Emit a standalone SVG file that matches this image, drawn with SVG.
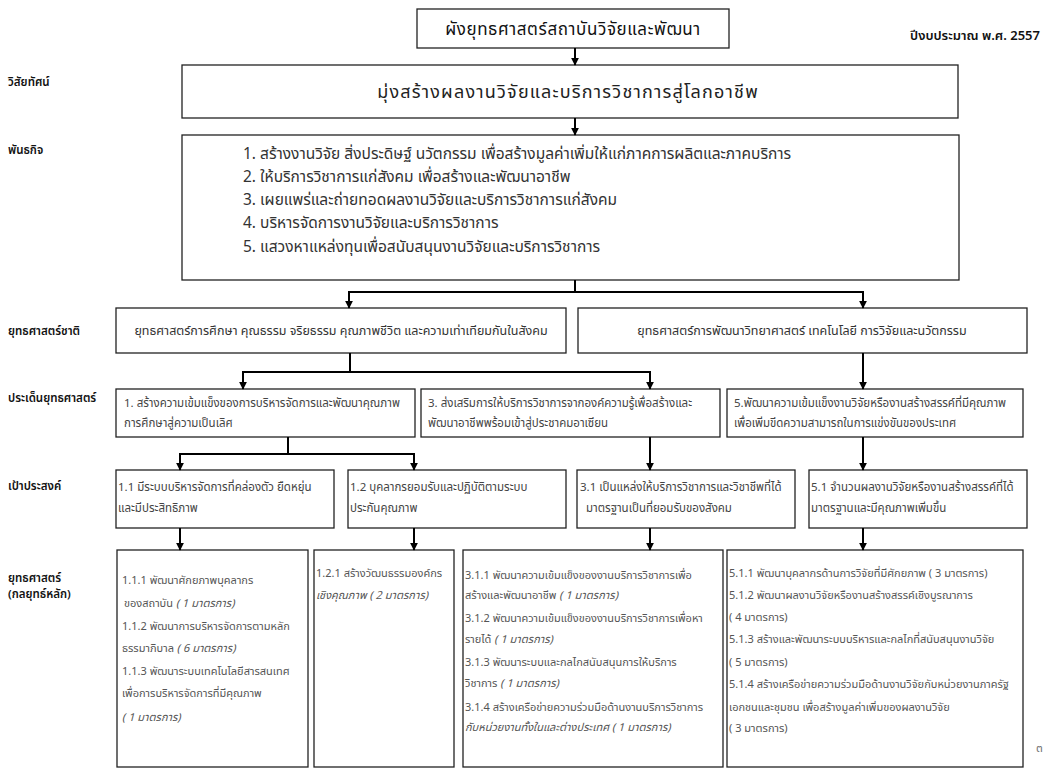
<svg xmlns="http://www.w3.org/2000/svg" width="1048" height="769" viewBox="0 0 1048 769">
<defs>
<style>
text{font-family:'Noto Sans Thai','Noto Sans','Liberation Sans',sans-serif}
.box{fill:#fff;stroke:#222;stroke-width:1.3}
.conn{stroke:#000;stroke-width:2;fill:none}
.lbl{font-size:11.5px;fill:#111;font-weight:600}
.title{font-size:17px;fill:#111;letter-spacing:0.6px}
.vis{font-size:18px;fill:#222;letter-spacing:1.2px}
.mis{font-size:15.5px;fill:#333}
.nat{font-size:12.5px;fill:#333}
.iss{font-size:11.5px;fill:#444}
.goal{font-size:11.5px;fill:#444}
.st{font-size:11px;fill:#555}
.it{font-style:italic}
</style>
<marker id="ah" viewBox="0 0 10 10" refX="9" refY="5" markerWidth="4" markerHeight="4" orient="auto" markerUnits="strokeWidth">
<path d="M0,0 L10,5 L0,10 z" fill="#000"/>
</marker>
</defs>
<rect width="1048" height="769" fill="#fff"/>

<g id="labels">
<text class="lbl" x="8" y="86">วิสัยทัศน์</text>
<text class="lbl" x="8" y="154">พันธกิจ</text>
<text class="lbl" x="8" y="335">ยุทธศาสตร์ชาติ</text>
<text class="lbl" x="8" y="402">ประเด็นยุทธศาสตร์</text>
<text class="lbl" x="8" y="490">เป้าประสงค์</text>
<text class="lbl" x="8" y="582">ยุทธศาสตร์</text>
<text class="lbl" x="8" y="598">(กลยุทธ์หลัก)</text>
<text class="lbl" x="1040" y="40" text-anchor="end" style="font-size:13px">ปีงบประมาณ พ.ศ. 2557</text>
<text x="1036" y="752" font-size="12px" fill="#777">๓</text>
</g>

<g id="title">
<rect class="box" x="417" y="9" width="312" height="39"/>
<text class="title" x="573" y="35" text-anchor="middle">ผังยุทธศาสตร์สถาบันวิจัยและพัฒนา</text>
</g>

<g id="vision">
<rect class="box" x="182" y="65" width="776" height="53"/>
<text class="vis" x="568" y="98" text-anchor="middle">มุ่งสร้างผลงานวิจัยและบริการวิชาการสู่โลกอาชีพ</text>
</g>

<g id="mission">
<rect class="box" x="182" y="135" width="777" height="145"/>
<text class="mis" x="243" y="159">1. สร้างงานวิจัย สิ่งประดิษฐ์ นวัตกรรม เพื่อสร้างมูลค่าเพิ่มให้แก่ภาคการผลิตและภาคบริการ</text>
<text class="mis" x="243" y="182">2. ให้บริการวิชาการแก่สังคม เพื่อสร้างและพัฒนาอาชีพ</text>
<text class="mis" x="243" y="205">3. เผยแพร่และถ่ายทอดผลงานวิจัยและบริการวิชาการแก่สังคม</text>
<text class="mis" x="243" y="228">4. บริหารจัดการงานวิจัยและบริการวิชาการ</text>
<text class="mis" x="243" y="252">5. แสวงหาแหล่งทุนเพื่อสนับสนุนงานวิจัยและบริการวิชาการ</text>
</g>

<g id="nat1">
<rect class="box" x="116" y="308" width="450" height="45"/>
<text class="nat" x="341" y="335" text-anchor="middle">ยุทธศาสตร์การศึกษา คุณธรรม จริยธรรม คุณภาพชีวิต และความเท่าเทียมกันในสังคม</text>
</g>
<g id="nat2">
<rect class="box" x="578" y="308" width="449" height="45"/>
<text class="nat" x="802" y="335" text-anchor="middle">ยุทธศาสตร์การพัฒนาวิทยาศาสตร์ เทคโนโลยี การวิจัยและนวัตกรรม</text>
</g>

<g id="issue1">
<rect class="box" x="116" y="389" width="299" height="48"/>
<text class="iss" x="124" y="407">1. สร้างความเข้มแข็งของการบริหารจัดการและพัฒนาคุณภาพ</text>
<text class="iss" x="124" y="427">การศึกษาสู่ความเป็นเลิศ</text>
</g>
<g id="issue3">
<rect class="box" x="421" y="389" width="299" height="48"/>
<text class="iss" x="428" y="407">3. ส่งเสริมการให้บริการวิชาการจากองค์ความรู้เพื่อสร้างและ</text>
<text class="iss" x="428" y="427">พัฒนาอาชีพพร้อมเข้าสู่ประชาคมอาเซียน</text>
</g>
<g id="issue5">
<rect class="box" x="727" y="389" width="296" height="48"/>
<text class="iss" x="734" y="407">5.พัฒนาความเข้มแข็งงานวิจัยหรืองานสร้างสรรค์ที่มีคุณภาพ</text>
<text class="iss" x="734" y="427">เพื่อเพิ่มขีดความสามารถในการแข่งขันของประเทศ</text>
</g>

<g id="goal11">
<rect class="box" x="116" y="470" width="218" height="58"/>
<text class="goal" x="118" y="491">1.1 มีระบบบริหารจัดการที่คล่องตัว ยืดหยุ่น</text>
<text class="goal" x="118" y="512">และมีประสิทธิภาพ</text>
</g>
<g id="goal12">
<rect class="box" x="348" y="470" width="218" height="58"/>
<text class="goal" x="350" y="491">1.2 บุคลากรยอมรับและปฏิบัติตามระบบ</text>
<text class="goal" x="350" y="512">ประกันคุณภาพ</text>
</g>
<g id="goal31">
<rect class="box" x="577" y="470" width="218" height="58"/>
<text class="goal" x="580" y="491">3.1 เป็นแหล่งให้บริการวิชาการและวิชาชีพที่ได้</text>
<text class="goal" x="586" y="512">มาตรฐานเป็นที่ยอมรับของสังคม</text>
</g>
<g id="goal51">
<rect class="box" x="809" y="470" width="218" height="58"/>
<text class="goal" x="811" y="491">5.1 จำนวนผลงานวิจัยหรืองานสร้างสรรค์ที่ได้</text>
<text class="goal" x="811" y="512">มาตรฐานและมีคุณภาพเพิ่มขึ้น</text>
</g>

<g id="strat11">
<rect class="box" x="117" y="550" width="191" height="217"/>
<text class="st" x="122" y="584">1.1.1 พัฒนาศักยภาพบุคลากร</text>
<text class="st" x="124" y="607">ของสถาบัน <tspan class="it">( 1 มาตรการ)</tspan></text>
<text class="st" x="122" y="630">1.1.2 พัฒนาการบริหารจัดการตามหลัก</text>
<text class="st" x="122" y="652">ธรรมาภิบาล <tspan class="it">( 6 มาตรการ)</tspan></text>
<text class="st" x="122" y="675">1.1.3 พัฒนาระบบเทคโนโลยีสารสนเทศ</text>
<text class="st" x="122" y="697">เพื่อการบริหารจัดการที่มีคุณภาพ</text>
<text class="st it" x="122" y="721">( 1 มาตรการ)</text>
</g>
<g id="strat12">
<rect class="box" x="314" y="550" width="140" height="217"/>
<text class="st" x="316" y="577">1.2.1 สร้างวัฒนธรรมองค์กร</text>
<text class="st it" x="316" y="599">เชิงคุณภาพ ( 2 มาตรการ)</text>
</g>
<g id="strat31">
<rect class="box" x="463" y="550" width="260" height="217"/>
<text class="st" x="465" y="579">3.1.1  พัฒนาความเข้มแข็งของงานบริการวิชาการเพื่อ</text>
<text class="st" x="465" y="599">สร้างและพัฒนาอาชีพ <tspan class="it">( 1 มาตรการ)</tspan></text>
<text class="st" x="465" y="622">3.1.2 พัฒนาความเข้มแข็งของงานบริการวิชาการเพื่อหา</text>
<text class="st" x="465" y="643">รายได้ <tspan class="it">( 1 มาตรการ)</tspan></text>
<text class="st" x="465" y="666">3.1.3 พัฒนาระบบและกลไกสนับสนุนการให้บริการ</text>
<text class="st" x="465" y="687">วิชาการ <tspan class="it">( 1 มาตรการ)</tspan></text>
<text class="st" x="465" y="711">3.1.4 สร้างเครือข่ายความร่วมมือด้านงานบริการวิชาการ</text>
<text class="st it" x="465" y="731">กับหน่วยงานทั้งในและต่างประเทศ ( 1 มาตรการ)</text>
</g>
<g id="strat51">
<rect class="box" x="727" y="550" width="296" height="217"/>
<text class="st" x="729" y="577">5.1.1 พัฒนาบุคลากรด้านการวิจัยที่มีศักยภาพ ( 3 มาตรการ)</text>
<text class="st" x="729" y="599">5.1.2 พัฒนาผลงานวิจัยหรืองานสร้างสรรค์เชิงบูรณาการ</text>
<text class="st" x="729" y="621">( 4 มาตรการ)</text>
<text class="st" x="729" y="643">5.1.3 สร้างและพัฒนาระบบบริหารและกลไกที่สนับสนุนงานวิจัย</text>
<text class="st" x="729" y="666">( 5 มาตรการ)</text>
<text class="st" x="729" y="688">5.1.4 สร้างเครือข่ายความร่วมมือด้านงานวิจัยกับหน่วยงานภาครัฐ</text>
<text class="st" x="729" y="711">เอกชนและชุมชน เพื่อสร้างมูลค่าเพิ่มของผลงานวิจัย</text>
<text class="st" x="729" y="732">( 3 มาตรการ)</text>
</g>

<g id="connectors">
<path class="conn" d="M575,48 V65" marker-end="url(#ah)"/>
<path class="conn" d="M575,118 V135" marker-end="url(#ah)"/>
<path class="conn" d="M575,280 V292 M349,292 H863"/>
<path class="conn" d="M349,291 V308" marker-end="url(#ah)"/>
<path class="conn" d="M863,291 V308" marker-end="url(#ah)"/>
<path class="conn" d="M350,353 V372 M243,372 H650"/>
<path class="conn" d="M243,371 V389" marker-end="url(#ah)"/>
<path class="conn" d="M650,371 V389" marker-end="url(#ah)"/>
<path class="conn" d="M863,353 V389" marker-end="url(#ah)"/>
<path class="conn" d="M288,437 V454 M180,454 H414"/>
<path class="conn" d="M180,453 V470" marker-end="url(#ah)"/>
<path class="conn" d="M414,453 V470" marker-end="url(#ah)"/>
<path class="conn" d="M650,437 V470" marker-end="url(#ah)"/>
<path class="conn" d="M863,437 V470" marker-end="url(#ah)"/>
<path class="conn" d="M180,528 V550" marker-end="url(#ah)"/>
<path class="conn" d="M414,528 V550" marker-end="url(#ah)"/>
<path class="conn" d="M650,528 V550" marker-end="url(#ah)"/>
<path class="conn" d="M863,528 V550" marker-end="url(#ah)"/>
</g>
</svg>
